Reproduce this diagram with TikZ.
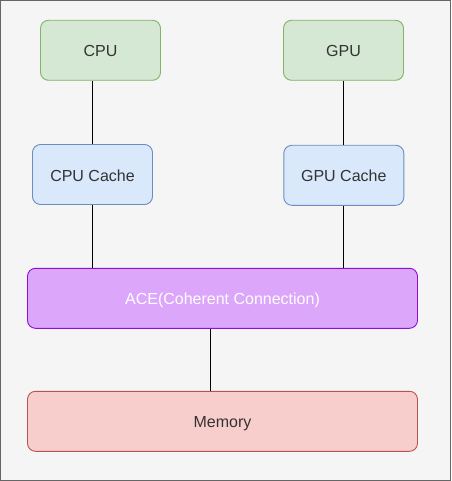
\documentclass[tikz,border=0pt]{standalone}
\usepackage{fontspec}
\setmainfont{Liberation Sans}
\definecolor{bgfill}{HTML}{F5F5F5}
\definecolor{bgline}{HTML}{666666}
\definecolor{greenfill}{HTML}{D5E8D4}
\definecolor{greenline}{HTML}{82B366}
\definecolor{bluefill}{HTML}{DAE8FC}
\definecolor{blueline}{HTML}{6C8EBF}
\definecolor{acefill}{HTML}{DCA6FA}
\definecolor{aceline}{HTML}{8C0FD6}
\definecolor{redfill}{HTML}{F8CECC}
\definecolor{redline}{HTML}{B85450}
\definecolor{txt}{HTML}{333333}
\begin{document}
\begin{tikzpicture}[x=1pt,y=-1pt,
  box/.style={rounded corners=8pt, line width=0.9pt, inner sep=0pt, text height=13pt, text depth=0pt, font=\fontsize{16}{19}\selectfont, text=txt},
  small/.style={box, minimum width=120pt, minimum height=60pt},
  wide/.style={box, minimum width=390pt, minimum height=60pt},
  link/.style={draw=black, line width=1pt}]
\useasboundingbox (0,0) rectangle (451,481);
\draw[fill=bgfill, draw=bgline, line width=1.2pt] (0.6,0.6) rectangle (450.4,480.4);
\node[small, fill=greenfill, draw=greenline] (cpu) at (100.5,50.3) {CPU};
\node[small, fill=bluefill, draw=blueline] (cpuc) at (92.5,174.5) {CPU Cache};
\node[small, fill=greenfill, draw=greenline] (gpu) at (343.5,50.3) {GPU};
\node[small, fill=bluefill, draw=blueline] (gpuc) at (343.8,175.3) {GPU Cache};
\node[wide, fill=acefill, draw=aceline, text=white] (ace) at (222.5,298.3) {ACE(Coherent Connection)};
\node[wide, fill=redfill, draw=redline] (mem) at (222.5,421.3) {Memory};
\draw[link] (cpuc.north) -- (cpuc.north |- cpu.south);
\draw[link] (gpuc.north) -- (gpuc.north |- gpu.south);
\draw[link] (cpuc.south) -- (cpuc.south |- ace.north);
\draw[link] (gpuc.south) -- (gpuc.south |- ace.north);
\draw[link] ([xshift=-12pt]mem.north) -- ([xshift=-12pt]ace.south);
\end{tikzpicture}
\end{document}
